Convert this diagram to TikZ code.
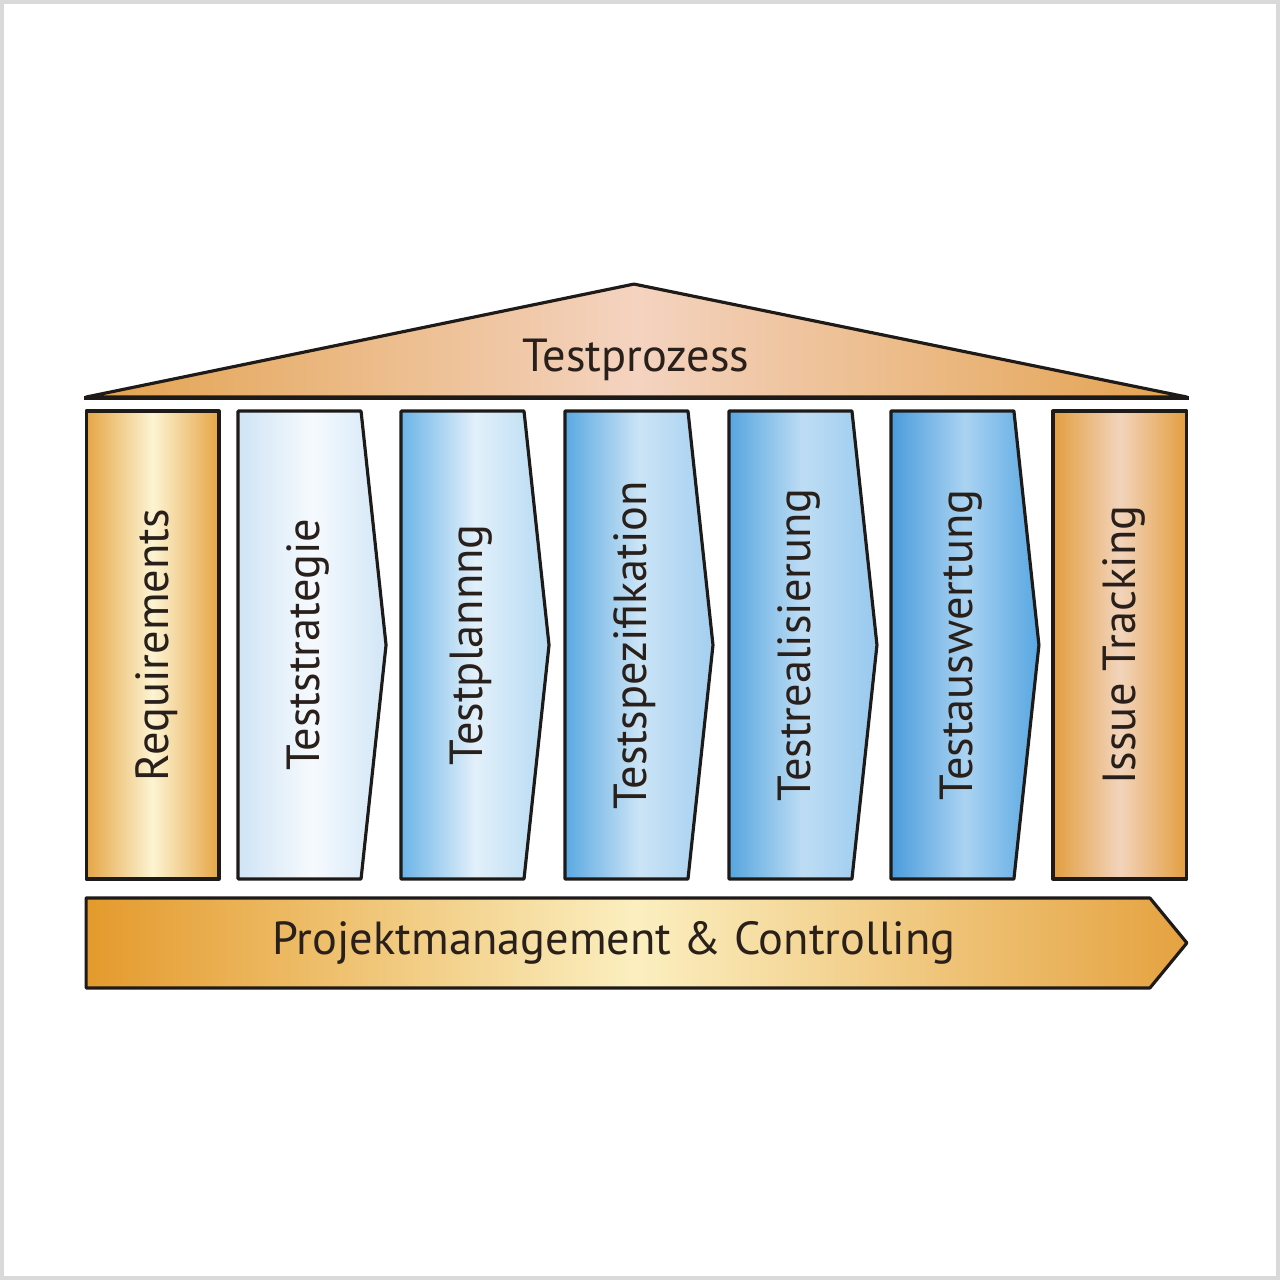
\documentclass[tikz,border=0pt]{standalone}
\usepackage{fontspec}
\setmainfont{PT Sans}
\definecolor{linedark}{HTML}{1E1A18}
\definecolor{textdark}{HTML}{2A201B}
\definecolor{frame}{HTML}{D9D9D9}
\definecolor{roofside}{HTML}{E3A24E}
\definecolor{rooftop}{HTML}{F4D3C0}
\definecolor{reqside}{HTML}{E6A545}
\definecolor{reqmid}{HTML}{FCF4D2}
\definecolor{issside}{HTML}{E39E3E}
\definecolor{issmid}{HTML}{F2D4BC}
\definecolor{pmleft}{HTML}{E49A2C}
\definecolor{pmmid}{HTML}{FBEFC0}
\definecolor{pmright}{HTML}{E5A240}
\definecolor{bAl}{HTML}{CFE4F5}\definecolor{bAm}{HTML}{F6FAFE}\definecolor{bAr}{HTML}{D2E6F6}
\definecolor{bBl}{HTML}{6BB4E8}\definecolor{bBm}{HTML}{E2F0FA}\definecolor{bBr}{HTML}{B6DAF3}
\definecolor{bCl}{HTML}{5AA9E2}\definecolor{bCm}{HTML}{CBE4F6}\definecolor{bCr}{HTML}{A4CFF0}
\definecolor{bDl}{HTML}{56A5E0}\definecolor{bDm}{HTML}{BEDDF4}\definecolor{bDr}{HTML}{98C9EE}
\definecolor{bEl}{HTML}{4A9CDC}\definecolor{bEm}{HTML}{AAD3F2}\definecolor{bEr}{HTML}{58A7E2}
\begin{document}
\begin{tikzpicture}[x=0.01cm,y=-0.01cm,
  outline/.style={draw=linedark,line width=0.9pt,line join=round},
  lbl/.style={text=textdark,inner sep=0pt,font=\fontsize{13.2}{16}\selectfont}]
% frame
\draw[frame,fill=white,line width=1.2pt] (2,2) rectangle (1278,1278);
% roof
\path[outline,left color=roofside,right color=roofside,middle color=rooftop]
  (86,397) -- (634,284) -- (1187,397) -- cycle;
\draw[linedark,line width=1.2pt] (84,398) -- (1189,398);
\node[lbl] (roof) at (636,360) {Testprozess};
% outer columns
\path[outline,left color=reqside,right color=reqside,middle color=reqmid]
  (86,411) rectangle (219,879);
\node[lbl,rotate=90] (req) at (157,645) {Requirements};
\path[outline,left color=issside,right color=issside,middle color=issmid]
  (1053,411) rectangle (1187,879);
\node[lbl,rotate=90] (issue) at (1124,645) {Issue Tracking};
% process arrows
\foreach \x/\nm/\c/\txt in {238/strat/bA/Teststrategie,401/plan/bB/Testplannng,
  565/spec/bC/Testspezifikation,729/real/bD/Testrealisierung,891/eval/bE/Testauswertung}{
  \path[outline,left color=\c l,right color=\c r,middle color=\c m]
    (\x,411) -- ({\x+123},411) -- ({\x+148},645) -- ({\x+123},879) -- (\x,879) -- cycle;
  \node[lbl,rotate=90] (\nm) at ({\x+70},645) {\txt};
}
% base arrow
\path[outline,left color=pmleft,right color=pmright,middle color=pmmid]
  (86,898) -- (1150,898) -- (1187,943) -- (1150,988) -- (86,988) -- cycle;
\node[lbl] (pm) at (614,943) {Projektmanagement \& Controlling};
\end{tikzpicture}
\end{document}
